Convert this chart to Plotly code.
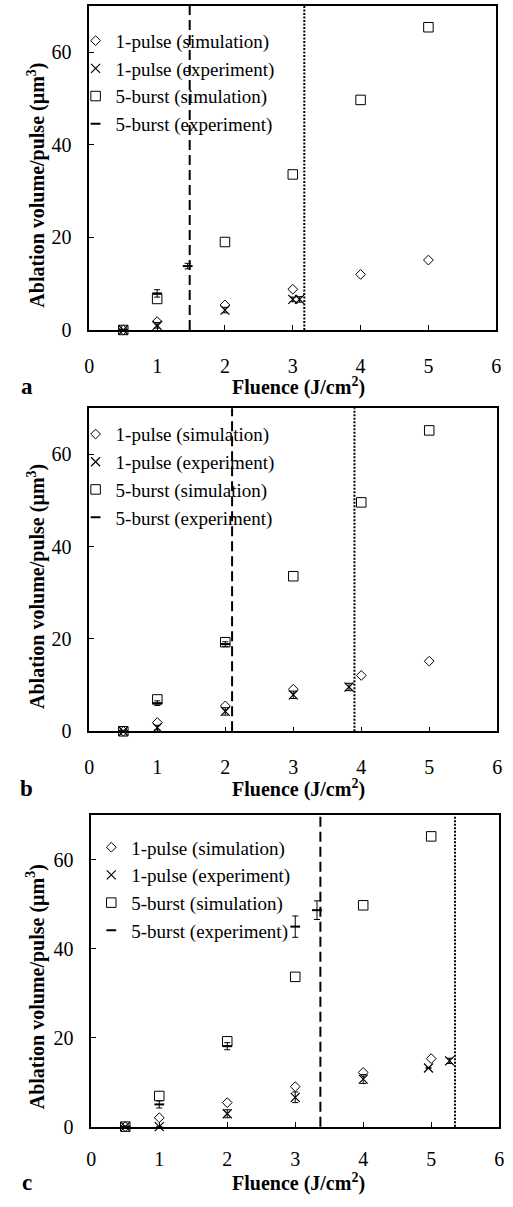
import plotly.graph_objects as go

# ---------------- data ----------------
fluence_sim = [0.5, 1, 2, 3, 4, 5]

# panel a
a_pulse_sim = [0, 1.8, 5.4, 8.8, 12.0, 15.1]
a_pulse_exp_x = [0.5, 1, 2, 3, 3.1]
a_pulse_exp_y = [0, 1.0, 4.3, 6.6, 6.6]
a_pulse_exp_err = [0, 0.6, 0.6, 0.5, 0.6]
a_burst_sim = [0, 6.7, 19.0, 33.6, 49.7, 65.4]
a_burst_exp_x = [0.5, 1, 1.45]
a_burst_exp_y = [0, 7.9, 13.8]
a_burst_exp_err = [0, 0.8, 0.6]
a_thresholds = [1.48, 3.17]   # dashed (5-burst), dotted (1-pulse)

# panel b
b_pulse_sim = [0, 1.9, 5.5, 9.1, 12.1, 15.2]
b_pulse_exp_x = [0.5, 1, 2, 3, 3.82]
b_pulse_exp_y = [0, 0.8, 4.3, 7.9, 9.6]
b_pulse_exp_err = [0, 0.5, 0.8, 0.8, 0.8]
b_burst_sim = [0, 6.9, 19.3, 33.6, 49.6, 65.2]
b_burst_exp_x = [0.5, 1, 2]
b_burst_exp_y = [0, 6.1, 18.9]
b_burst_exp_err = [0, 0.5, 0.5]
b_thresholds = [2.1, 3.9]

# panel c
c_pulse_sim = [0, 2.0, 5.4, 9.0, 12.2, 15.3]
c_pulse_exp_x = [0.5, 1, 2, 3, 4, 4.96, 5.27]
c_pulse_exp_y = [0, 0, 2.9, 6.6, 10.7, 13.2, 14.8]
c_pulse_exp_err = [0, 0, 0.9, 1.2, 1.0, 0, 0.6]
c_burst_sim = [0, 6.9, 19.2, 33.7, 49.8, 65.3]
c_burst_exp_x = [0.5, 1, 2, 3, 3.32]
c_burst_exp_y = [0, 5.0, 18.1, 45.0, 48.7]
c_burst_exp_err = [0, 0.8, 0.8, 2.4, 2.1]
c_thresholds = [3.37, 5.35]

names = ["1-pulse (simulation)", "1-pulse (experiment)",
         "5-burst (simulation)", "5-burst (experiment)"]
panel_labels = ["a", "b", "c"]
x_ticks = [0, 1, 2, 3, 4, 5, 6]
y_ticks = [0, 20, 40, 60]

# ---------------- layout geometry (pixels) ----------------
W, H = 513, 1207
FONT = "Liberation Serif, serif"
panels = [
    dict(left=86, right=501, top=6, bottom=333, xstand=17,
         legend_xy=(72, 22), title_y=390, ytitle_y=187),
    dict(left=86, right=502, top=412, bottom=738, xstand=17,
         legend_xy=(72, 419), title_y=796, ytitle_y=592),
    dict(left=88, right=504, top=823, bottom=1137, xstand=14,
         legend_xy=(88, 836), title_y=1193, ytitle_y=996),
]

data = [
    (a_pulse_sim, a_pulse_exp_x, a_pulse_exp_y, a_pulse_exp_err, a_burst_sim,
     a_burst_exp_x, a_burst_exp_y, a_burst_exp_err, a_thresholds),
    (b_pulse_sim, b_pulse_exp_x, b_pulse_exp_y, b_pulse_exp_err, b_burst_sim,
     b_burst_exp_x, b_burst_exp_y, b_burst_exp_err, b_thresholds),
    (c_pulse_sim, c_pulse_exp_x, c_pulse_exp_y, c_pulse_exp_err, c_burst_sim,
     c_burst_exp_x, c_burst_exp_y, c_burst_exp_err, c_thresholds),
]

fig = go.Figure()
layout = dict(width=W, height=H, autosize=False,
              margin=dict(l=0, r=0, t=0, b=0),
              paper_bgcolor="white", plot_bgcolor="white",
              font=dict(family=FONT, size=20, color="black"),
              showlegend=True, shapes=[], annotations=[])

for i, (p, d) in enumerate(zip(panels, data)):
    (ps, pex, pey, pee, bs, bex, bey, bee, thr) = d
    n = "" if i == 0 else str(i + 1)
    xa, ya = "x" + n, "y" + n
    leg = "legend" + n
    common = dict(xaxis=xa, yaxis=ya, legend=leg, cliponaxis=False,
                  mode="markers")
    fig.add_trace(go.Scatter(x=fluence_sim, y=ps, name=names[0],
                             marker=dict(symbol="diamond-open", size=7.5,
                                         color="black", line=dict(width=1)),
                             **common))
    fig.add_trace(go.Scatter(x=pex, y=pey, name=names[1],
                             marker=dict(symbol="x-thin-open", size=9,
                                         color="black", line=dict(width=1.2)),
                             error_y=dict(type="data", array=pee, color="black",
                                          thickness=1, width=3),
                             **common))
    fig.add_trace(go.Scatter(x=fluence_sim, y=bs, name=names[2],
                             marker=dict(symbol="square-open", size=9.5,
                                         color="black", line=dict(width=1)),
                             **common))
    fig.add_trace(go.Scatter(x=bex, y=bey, name=names[3],
                             marker=dict(symbol="line-ew-open", size=7,
                                         color="black", line=dict(width=2)),
                             error_y=dict(type="data", array=bee, color="black",
                                          thickness=1, width=3),
                             **common))

    xdom = [p["left"] / W, p["right"] / W]
    ydom = [1 - p["bottom"] / H, 1 - p["top"] / H]
    axis_common = dict(showline=True, mirror=True, linecolor="black",
                       linewidth=1.5, showgrid=False, zeroline=False,
                       ticks="inside", tickcolor="black", ticklen=5,
                       tickwidth=1,
                       tickfont=dict(family=FONT, size=20, color="black"))
    layout["xaxis" + n] = dict(domain=xdom, range=[0, 6], tickvals=x_ticks,
                               anchor=ya, ticklabelstandoff=p["xstand"],
                               **axis_common)
    layout["yaxis" + n] = dict(domain=ydom, range=[0, 70], tickvals=y_ticks,
                               anchor=xa, ticklabelstandoff=12, **axis_common)
    lx, ly = p["legend_xy"]
    layout[leg] = dict(x=lx / W, y=1 - ly / H, xanchor="left", yanchor="top",
                       bgcolor="rgba(0,0,0,0)", borderwidth=0,
                       font=dict(family=FONT, size=19, color="black"),
                       tracegroupgap=0)
    # threshold lines
    layout["shapes"].append(dict(type="line", xref=xa, yref=ya + " domain",
                                 x0=thr[0], x1=thr[0], y0=0, y1=1,
                                 line=dict(color="black", width=2,
                                           dash="10px,5px")))
    layout["shapes"].append(dict(type="line", xref=xa, yref=ya + " domain",
                                 x0=thr[1], x1=thr[1], y0=0, y1=1,
                                 line=dict(color="black", width=2,
                                           dash="2px,1.5px")))
    # titles
    layout["annotations"].append(dict(
        text="<b>Fluence (J/cm<sup>2</sup>)</b>", xref="paper", yref="paper",
        x=299 / W, y=1 - p["title_y"] / H, showarrow=False,
        font=dict(family=FONT, size=20), xanchor="center", yanchor="middle"))
    layout["annotations"].append(dict(
        text="<b>" + panel_labels[i] + "</b>", xref="paper", yref="paper",
        x=22 / W, y=1 - p["title_y"] / H, showarrow=False,
        font=dict(family=FONT, size=23), xanchor="center", yanchor="middle"))
    layout["annotations"].append(dict(
        text="<b>Ablation volume/pulse (µm<sup>3</sup>)</b>", xref="paper",
        yref="paper", x=32 / W, y=1 - p["ytitle_y"] / H, showarrow=False,
        textangle=-90, font=dict(family=FONT, size=20),
        xanchor="center", yanchor="middle"))

fig.update_layout(**layout)
fig.write_html("out.html")
